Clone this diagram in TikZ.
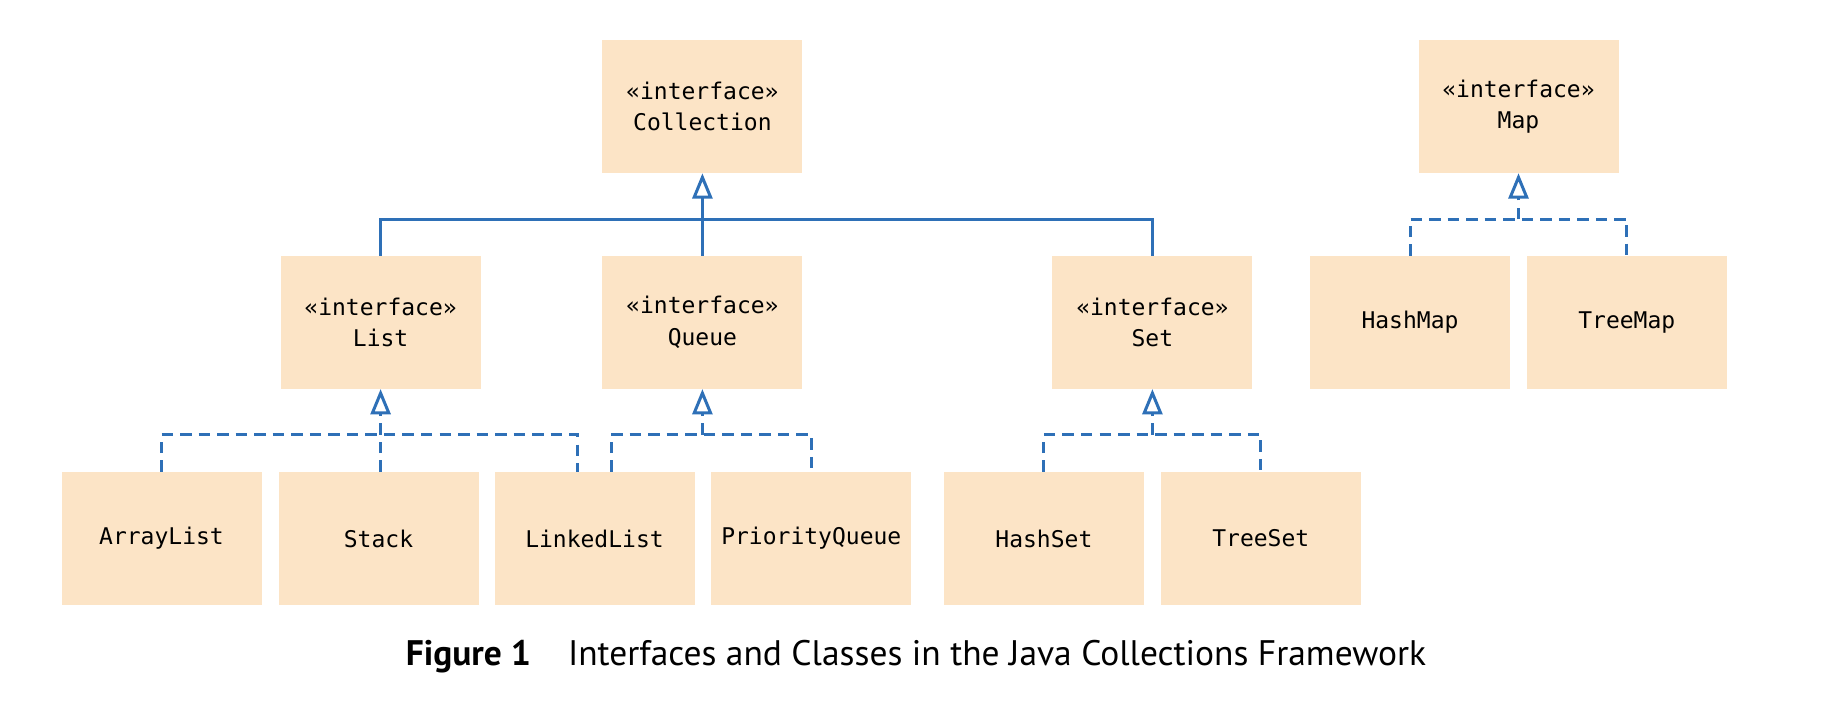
\documentclass[tikz,border=0pt]{standalone}
\usepackage{fontspec}
\setmainfont{PT Sans}
\newfontfamily\boxfont{DejaVu Sans Mono}
\usetikzlibrary{arrows.meta}
\definecolor{boxfill}{RGB}{252,228,198}
\definecolor{linkblue}{RGB}{46,112,183}
\begin{document}
\begin{tikzpicture}[x=0.75pt,y=0.75pt,yscale=-1,xscale=1,
  classbox/.style={fill=boxfill, minimum width=150pt, minimum height=99.75pt, inner sep=0pt, align=center, font=\boxfont\fontsize{17.25pt}{23.5pt}\selectfont},
  extline/.style={draw=linkblue, line width=2.25pt},
  implline/.style={draw=linkblue, line width=2.25pt, dash pattern=on 8.6pt off 5.3pt},
  hollow/.style={-{Triangle[open, length=19pt, width=15pt, fill=white]}}]
\useasboundingbox (0,0) rectangle (1828,704);
%Shape: Rectangle  
\node[classbox] (collection) at (702.4,106.5) {«interface»\\Collection};
\node[classbox] (map) at (1518.5,106.5) {«interface»\\Map};
%Shape: Rectangle  
\node[classbox] (list) at (380.6,322.3) {«interface»\\List};
\node[classbox] (queue) at (702.4,322.3) {«interface»\\Queue};
\node[classbox] (set) at (1152.4,322.3) {«interface»\\Set};
\node[classbox] (hashmap) at (1410,322.3) {HashMap};
\node[classbox] (treemap) at (1626.8,322.3) {TreeMap};
%Shape: Rectangle  
\node[classbox] (arraylist) at (161.5,538.5) {ArrayList};
\node[classbox] (stack) at (378.5,538.5) {Stack};
\node[classbox] (linkedlist) at (594.5,538.5) {LinkedList};
\node[classbox] (priorityqueue) at (811.3,538.5) {PriorityQueue};
\node[classbox] (hashset) at (1043.9,538.5) {HashSet};
\node[classbox] (treeset) at (1260.8,538.5) {TreeSet};
%Straight Lines  
\coordinate (colbus) at (702.4,219);
\draw[extline] (list.north) |- (colbus) -| (set.north);
\draw[extline] (queue.north) -- (colbus);
\draw[extline, hollow] (colbus) -- (collection.south);
%Straight Lines  
\coordinate (listbus) at (380.6,434.7);
\coordinate (lla) at ([xshift=-12.4pt]linkedlist.north);
\draw[implline] (arraylist.north) |- (listbus) -| (lla);
\draw[implline] (stack.north -| listbus) -- (listbus);
\draw[implline, hollow] (listbus) -- (list.south);
%Straight Lines  
\coordinate (queuebus) at (702.4,434.7);
\coordinate (llb) at ([xshift=12.4pt]linkedlist.north);
\draw[implline] (llb) |- (queuebus) -| (priorityqueue.north);
\draw[implline, hollow] (queuebus) -- (queue.south);
%Straight Lines  
\coordinate (setbus) at (1152.4,434.7);
\draw[implline] (hashset.north) |- (setbus) -| (treeset.north);
\draw[implline, hollow] (setbus) -- (set.south);
%Straight Lines  
\coordinate (mapbus) at (1518.5,219);
\draw[implline] (hashmap.north) |- (mapbus) -| (treemap.north);
\draw[implline, hollow] (mapbus) -- (map.south);
%Text  
\node[anchor=base, font=\fontsize{26.6pt}{30pt}\selectfont] (caption) at (916,665) {\textbf{Figure 1}\hspace{27.75pt}Interfaces and Classes in the Java Collections Framework};
\end{tikzpicture}
\end{document}
